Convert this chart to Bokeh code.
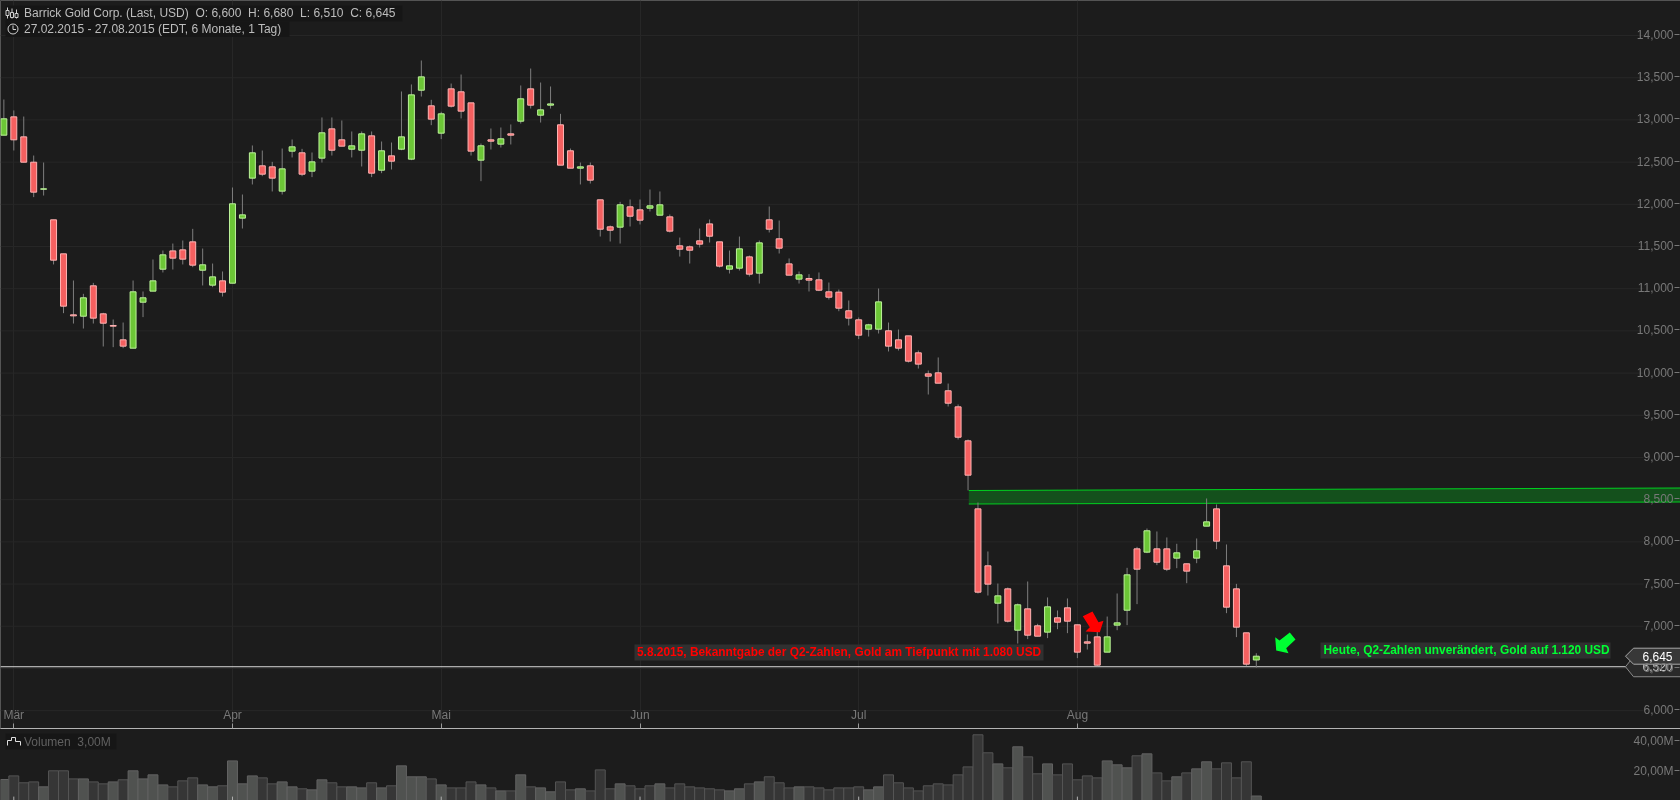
from bokeh.plotting import figure
from bokeh.models import Range1d, FixedTicker, Grid
from bokeh.core.properties import value
from bokeh.embed import file_html
from bokeh.resources import INLINE

opens = [12819,13036,12799,12499,12179,11816,11413,10690,10674,11034,
10702,10564,10394,10295,10840,10971,11231,11448,11460,11555,
11219,11042,11093,11065,11836,12310,12456,12444,12156,12630,
12610,12393,12547,12894,12764,12653,12641,12811,12404,12574,
12653,12535,13352,13167,12843,13368,13333,13202,12523,12764,
12713,12835,12985,13368,13056,13175,12942,12634,12428,12456,
12053,11733,11729,11970,11934,11954,11871,11851,11508,11496,
11567,11768,11555,11231,11243,11377,11184,11816,11591,11294,
11113,11121,11105,10963,10959,10738,10631,10520,10520,10501,
10394,10441,10240,9991,10003,9790,9600,9197,8391,7716,
7273,7443,6953,7206,7005,6930,7100,7218,7017,6815,
6874,6693,7013,7190,7917,7878,7917,7917,7807,7740,
7807,8186,8391,7716,7443,6922,6600]
closes = [13013,12764,12499,12144,12183,11338,10793,10678,10892,10651,
10591,10556,10319,10963,10892,11093,11401,11362,11350,11279,
11283,11140,10959,12006,11875,12610,12357,12310,12420,12681,
12357,12503,12847,12641,12689,12693,12835,12369,12634,12511,
12799,13297,13510,13009,13072,13163,13104,12630,12693,12748,
12776,12819,13250,13175,13119,13190,12464,12428,12444,12286,
11705,11693,11994,11859,11812,11982,11994,11682,11468,11456,
11528,11622,11267,11271,11472,11172,11543,11705,11480,11160,
11164,11101,10982,10899,10769,10651,10449,10572,10844,10319,
10295,10141,10106,9963,9880,9643,9240,8790,7404,7499,
7360,7060,7254,6894,6882,7230,7048,7060,6693,6799,
6539,6874,7040,7609,7676,8131,7759,7676,7870,7653,
7894,8237,8008,7226,6989,6551,6645]
highs = [13242,13112,13040,12578,12495,11816,11413,11097,10939,11069,
10714,10635,10599,11097,10967,11346,11452,11535,11571,11709,
11476,11298,11204,12199,12116,12697,12637,12503,12661,12768,
12657,12614,13029,13029,12993,12863,12863,12863,12744,12732,
13337,13420,13704,13238,13096,13431,13538,13202,12720,12898,
12910,12946,13408,13609,13443,13396,13072,12661,12495,12495,
12053,11749,12029,12057,12057,12175,12152,11879,11606,11512,
11713,11820,11555,11452,11618,11393,11571,11974,11808,11358,
11204,11172,11192,11073,10990,10860,10659,10584,11002,10599,
10516,10441,10267,10030,10185,9876,9628,9213,8466,7886,
7506,7459,7269,7530,7029,7341,7187,7329,7017,6902,
6940,7115,7388,7692,7941,8158,8123,8052,7977,7740,
8040,8514,8443,7969,7502,6922,6680]
lows = [12819,12638,12499,12085,12104,11287,10710,10587,10528,10587,
10315,10307,10295,10295,10663,10971,11192,11227,11287,11255,
11038,11018,10907,11065,11713,12235,12333,12152,12116,12555,
12333,12322,12495,12578,12689,12555,12448,12322,12369,12412,
12641,12523,13277,12938,12772,13147,13017,12578,12274,12649,
12673,12709,12957,13135,12969,13135,12464,12428,12235,12246,
11618,11559,11535,11737,11761,11915,11871,11666,11381,11298,
11488,11547,11251,11180,11215,11144,11061,11666,11417,11160,
11061,10967,10971,10872,10733,10564,10402,10433,10469,10256,
10267,10125,10054,9746,9880,9604,9213,8610,7388,7364,
7032,7044,6795,6847,6882,6859,6965,6918,6622,6724,
6527,6693,6953,7013,7262,7866,7724,7653,7688,7510,
7747,8186,7913,7155,6871,6527,6510]
volume = [14.0,16.4,11.8,12.4,9.1,19.8,19.8,14.4,14.4,12.4,
11.1,12.4,13.8,19.8,14.4,17.1,10.4,9.1,13.1,15.1,
10.4,9.1,9.8,26.4,11.1,16.4,15.1,11.1,12.4,9.1,
7.8,7.1,13.8,11.8,9.1,9.1,8.4,11.8,8.4,9.8,
23.1,15.8,15.8,14.4,10.4,8.4,8.4,12.4,10.4,8.4,
6.4,6.4,17.1,9.1,8.4,5.8,12.4,7.1,7.8,6.4,
20.4,7.8,11.1,9.8,7.8,9.8,11.1,8.4,11.1,9.1,
8.4,7.8,7.1,6.4,7.8,11.1,12.4,15.8,11.8,8.4,
9.1,9.1,8.4,7.1,8.4,8.4,9.1,7.1,9.1,17.1,
11.8,8.4,6.4,9.8,11.1,10.4,17.1,22.4,43.8,31.8,
24.4,21.8,35.8,29.1,17.8,24.4,17.1,24.4,13.8,16.4,
15.1,26.4,23.8,21.8,29.8,31.1,18.4,13.1,15.8,18.4,
21.1,25.8,21.1,25.1,15.1,25.8,3.0]
volume_up_days = [0,4,8,11,13,14,15,16,20,21,23,24,25,28,29,31,32,35,36,38,40,41,42,44,48,50,
                  52,54,55,58,62,66,73,74,76,80,87,88,100,102,105,111,112,113,115,118,120,121,126]

month_ticks = [1, 23, 44, 64, 86, 108]
month_labels = ["Mär", "Apr", "Mai", "Jun", "Jul", "Aug"]
price_ticks = list(range(6000, 14001, 500))
volume_ticks = [20, 40]
volume_labels = ["20,00M", "40,00M"]
support_level = 6520
last_close = 6645
title_line = "Barrick Gold Corp. (Last, USD)\u00a0\u00a0O: 6,600\u00a0\u00a0H: 6,680\u00a0\u00a0L: 6,510\u00a0\u00a0C: 6,645"
range_line = "27.02.2015 - 27.08.2015 (EDT, 6 Monate, 1 Tag)"
note_red = "5.8.2015, Bekanntgabe der Q2-Zahlen, Gold am Tiefpunkt mit 1.080 USD"
note_green = "Heute, Q2-Zahlen unverändert, Gold auf 1.120 USD"
volume_title = "Volumen\u00a0\u00a03,00M"

BG = "#1c1c1c"
GRID = "#272727"
AXIS_TXT = "#787878"
FONT = value("Liberation Sans")
W, H_MAIN, H_ALL = 1680, 728, 800
BLEED = 2
STEP = 9.94
X0 = 1 - 13.3 / STEP
X1 = X0 + W / STEP
Y_TOP = 14415
PER_PX = 11.85
Y_BOT = Y_TOP - H_MAIN * PER_PX

def X(px):
    return X0 + px / STEP

def Y(py):
    return Y_TOP - py * PER_PX

def fixed(left=-BLEED, top=-BLEED):
    return {"position": "fixed", "left": f"{left}px", "top": f"{top}px"}

def base(styles, **kw):
    return figure(toolbar_location=None, tools="", output_backend="svg", outline_line_color=None,
                  styles=styles, **kw)

# ---- main price pane: a little border bleeds past the top and left window edges
p = base(fixed(), width=W + BLEED, height=H_ALL + BLEED, x_range=Range1d(X0, X1), y_range=Range1d(Y_BOT, Y_TOP),
         x_axis_location=None, y_axis_location=None, min_border=0, min_border_left=BLEED, min_border_top=BLEED,
         min_border_bottom=H_ALL - H_MAIN, background_fill_color=BG, border_fill_color=BG)
p.grid.visible = False
p.add_layout(Grid(dimension=0, ticker=FixedTicker(ticks=month_ticks), grid_line_color=GRID))
p.segment(x0=[X0] * len(price_ticks), x1=[X(1643)] * len(price_ticks), y0=price_ticks, y1=price_ticks,
          line_color=GRID, line_width=1)

# resistance zone
zx = [X(968.3), X(1680), X(1680), X(968.3)]
zt = [Y(490), Y(487.5)]
zb = [Y(501.5), Y(503.5)]
p.patch(zx, zt + zb, fill_color="#14501c", line_color=None)
p.line(zx[:2], zt, line_color="#00d020", line_width=1)
p.line(zx[:2], zb[::-1], line_color="#00d020", line_width=1)

# support line
p.segment(x0=[X0], x1=[X(1626)], y0=[support_level], y1=[support_level], line_color="#d8d8d8", line_width=1)

# candles
idx = list(range(len(opens)))
p.segment(x0=idx, x1=idx, y0=lows, y1=highs, line_color="#7e7e7e", line_width=1)
up = [i for i in idx if closes[i] >= opens[i]]
dn = [i for i in idx if closes[i] < opens[i]]
p.vbar(x=up, width=0.6, bottom=[opens[i] for i in up], top=[closes[i] for i in up],
       fill_color="#6cc636", line_color="#bdf39b", line_width=1)
p.vbar(x=dn, width=0.6, bottom=[closes[i] for i in dn], top=[opens[i] for i in dn],
       fill_color="#f56060", line_color="#ffb4b4", line_width=1)

# header
p.quad(left=[X(5), X(5)], right=[X(402), X(289)], top=[Y(5), Y(21)], bottom=[Y(21), Y(36.5)],
       fill_color="#161616", line_color=None)
p.text(x=[X(23.5), X(23.5)], y=[Y(12.5), Y(28.7)], text=[title_line, range_line], text_font=FONT,
       text_font_size="12px", text_color="#bdbdbd", text_baseline="middle")
for cx, top, bot, lo, hi in [(7, 10, 15, 7, 18), (11.5, 12, 17, 8, 18), (16, 13, 17, 9, 18)]:
    p.segment(x0=[X(cx)], x1=[X(cx)], y0=[Y(hi)], y1=[Y(lo)], line_color="#d0d0d0", line_width=1)
    p.quad(left=[X(cx - 1.5)], right=[X(cx + 1.5)], top=[Y(top)], bottom=[Y(bot)], fill_color="#1c1c1c",
           line_color="#d0d0d0", line_width=1)
p.scatter(x=[X(12.5)], y=[Y(28.5)], marker="circle", size=10, fill_color=None, line_color="#d0d0d0", line_width=1)
p.line([X(12.5), X(12.5), X(15.5)], [Y(25), Y(29), Y(29)], line_color="#d0d0d0", line_width=1)

# notes
p.quad(left=[X(634), X(1320)], right=[X(1043), X(1610)], top=[Y(644), Y(642)], bottom=[Y(660), Y(658)],
       fill_color="#303030", line_color=None)
p.text(x=[X(636.5)], y=[Y(651)], text=[note_red], text_font=FONT, text_font_size="11.9px",
       text_font_style="bold", text_color="#ff0000", text_baseline="middle")
p.text(x=[X(1323)], y=[Y(649)], text=[note_green], text_font=FONT, text_font_size="11.9px",
       text_font_style="bold", text_color="#00ff33", text_baseline="middle")

# arrows
red_arrow = [(1082.3, 615.7), (1092, 611), (1098, 621.7), (1103, 620.3), (1099.3, 631.7), (1085, 631), (1089.3, 626.7)]
green_arrow = [(1289.3, 632), (1295, 639), (1285.7, 647.7), (1288, 652.7), (1275.7, 650), (1274.7, 636.7), (1279, 640)]
p.patch([X(a) for a, b in red_arrow], [Y(b) for a, b in red_arrow], fill_color="#ff0000", line_color=None)
p.patch([X(a) for a, b in green_arrow], [Y(b) for a, b in green_arrow], fill_color="#00ff33", line_color=None)

# price tags
def tag(level, half, fill, edge, colour):
    tip = X(1625)
    box = X(1633)
    right = X(1681)
    d = half * PER_PX
    p.patch([tip, box, right, right, box], [level, level + d, level + d, level - d, level - d],
            fill_color=fill, line_color=edge, line_width=1)
    p.text(x=[X(1657)], y=[level], text=[f"{level:,}"], text_font=FONT, text_font_size="12px",
           text_color=colour, text_align="center", text_baseline="middle")

tag(support_level, 10, "#2a2a2a", "#8a8a8a", "#c8c8c8")
tag(last_close, 8, "#383838", "#a8a8a8", "#ffffff")

# ---- volume pane (its above-axis carries the month labels and the divider)
v = base(fixed(), width=W + BLEED, height=H_ALL + BLEED, x_range=Range1d(X0, X1), y_range=Range1d(0, 48),
         x_axis_location="above", y_axis_location=None, min_border=0, min_border_left=BLEED,
         min_border_top=H_MAIN + BLEED,
         background_fill_color=BG, background_fill_alpha=0, border_fill_color=BG, border_fill_alpha=0)
v.grid.visible = False
xa = v.xaxis[0]
xa.ticker = FixedTicker(ticks=month_ticks)
xa.major_label_overrides = dict(zip(month_ticks, month_labels))
xa.major_label_text_font = "Liberation Sans"
xa.major_label_text_font_size = "12px"
xa.major_label_text_color = AXIS_TXT
xa.major_label_standoff = 2
xa.axis_line_color = "#b4b4b4"
xa.major_tick_line_color = "#9a9a9a"
xa.major_tick_out = 5
xa.major_tick_in = 0
xa.minor_tick_line_color = None
flags = [i in volume_up_days for i in idx]
v.vbar(x=idx, width=1.0, top=volume, bottom=0,
       fill_color=["#505250" if f else "#363636" for f in flags],
       line_color=["#626262" if f else "#555555" for f in flags], line_width=1)
v.segment(x0=month_ticks, x1=month_ticks, y0=[0] * 6, y1=[2.6] * 6, line_color="#b0b0b0", line_width=1)
VY = lambda py: (H_ALL - py) / 1.5
v.quad(left=[X(5)], right=[X(116)], top=[VY(733)], bottom=[VY(749)], fill_color="#161616", line_color=None)
v.text(x=[X(23.5)], y=[VY(741)], text=[volume_title], text_font=FONT, text_font_size="12px",
       text_color="#606060", text_baseline="middle")
v.line([X(7), X(7), X(11), X(11), X(15), X(15), X(20), X(20)],
       [VY(745), VY(740), VY(740), VY(737), VY(737), VY(741), VY(741), VY(745)],
       line_color="#e0e0e0", line_width=1)

# ---- axis strips: real left axes whose frames sit at the right edge
def strip(shift, height, top, y_range, ticks, labels):
    s = base(fixed(-BLEED, shift - BLEED), width=W + BLEED, height=height + BLEED, x_range=Range1d(0, 1),
             y_range=y_range, x_axis_location=None, y_axis_location="left", min_border=0,
             min_border_left=W + BLEED - 1, min_border_top=top + BLEED,
             background_fill_color=BG, background_fill_alpha=0, border_fill_color=BG, border_fill_alpha=0)
    s.grid.visible = False
    a = s.yaxis[0]
    a.ticker = FixedTicker(ticks=ticks)
    a.major_label_overrides = dict(zip(ticks, labels))
    a.major_label_text_font = "Liberation Sans"
    a.major_label_text_font_size = "12px"
    a.major_label_text_color = AXIS_TXT
    a.major_label_standoff = 1
    a.axis_line_color = None
    a.major_tick_line_color = AXIS_TXT
    a.major_tick_out = 5
    a.major_tick_in = 0
    a.minor_tick_line_color = None
    return s

y1 = strip(-1, H_MAIN, 0, Range1d(Y_BOT, Y_TOP), price_ticks, [f"{t:,}" for t in price_ticks])
y2 = strip(0, H_ALL, H_MAIN, Range1d(0, 48), volume_ticks, volume_labels)

open("out.html", "w").write(file_html([p, v, y1, y2], INLINE))
